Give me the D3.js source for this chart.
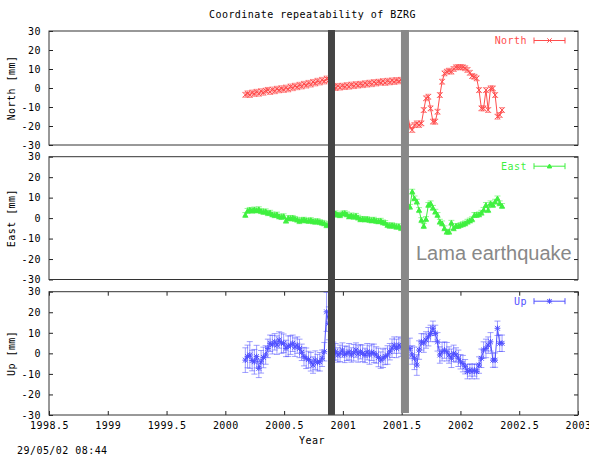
<!DOCTYPE html>
<html><head><meta charset="utf-8">
<script src="https://cdn.jsdelivr.net/npm/d3@7"></script>
<style>html,body{margin:0;padding:0;background:#fff;} svg{display:block;}</style>
</head><body>
<script>
// ---------- data ----------
const epochs = [
 2000.170,2000.189,2000.208,2000.228,2000.247,2000.266,2000.285,2000.304,2000.324,2000.343,
 2000.362,2000.381,2000.400,2000.420,2000.439,2000.458,2000.477,2000.496,2000.516,2000.535,
 2000.554,2000.573,2000.592,2000.612,2000.631,2000.650,2000.669,2000.688,2000.708,2000.727,
 2000.746,2000.765,2000.784,2000.804,2000.823,2000.842,2000.861,2000.880,2000.900,2000.919,
 2000.938,2000.957,2000.976,2000.996,2001.015,2001.034,2001.053,2001.072,2001.092,2001.111,
 2001.130,2001.149,2001.168,2001.188,2001.207,2001.226,2001.245,2001.264,2001.284,2001.303,
 2001.322,2001.341,2001.360,2001.380,2001.399,2001.418,2001.437,2001.456,2001.476,2001.495,
 2001.570,2001.590,2001.609,2001.629,2001.648,2001.668,2001.688,2001.707,2001.727,2001.746,
 2001.766,2001.786,2001.805,2001.825,2001.844,2001.864,2001.884,2001.903,2001.923,2001.942,
 2001.962,2001.982,2002.001,2002.021,2002.040,2002.060,2002.080,2002.099,2002.119,2002.138,
 2002.158,2002.178,2002.197,2002.217,2002.236,2002.256,2002.276,2002.295,2002.315,2002.334,
 2002.354
];
const north = [
 -3.6,-2.8,-3.7,-2.4,-3.1,-2.0,-3.0,-1.7,-2.5,-1.4,
 -1.0,-2.1,-0.8,-1.7,-0.4,-1.2,-0.1,-1.0,0.2,-0.7,
 0.8,-0.1,1.2,0.4,1.7,0.8,2.2,1.3,2.7,1.8,
 3.2,2.4,3.8,2.9,4.3,3.4,5.0,4.1,5.0,0.5,
 0.0,1.1,0.2,1.2,0.5,1.5,0.7,1.8,1.0,2.0,
 1.3,2.2,1.5,2.5,1.8,2.8,2.0,3.1,2.4,3.3,
 2.8,3.6,2.7,3.8,3.0,4.0,3.2,4.2,3.5,4.3,
 -20.3,-22.1,-19.5,-18.6,-19.5,-18.6,-11.6,-5.4,-4.6,-10.7,
 -17.7,-17.7,-12.5,-3.7,3.3,7.7,8.6,9.1,8.6,10.0,
 10.9,10.9,11.0,10.9,10.4,9.5,8.0,6.3,5.9,5.1,
 -1.1,-10.7,-10.7,-1.1,-11.6,-0.2,-0.2,-3.7,-15.1,-14.2,
 -11.6
];
const east = [
 1.5,3.5,4.0,3.6,4.2,3.7,4.3,3.4,3.0,3.3,
 2.4,2.6,1.8,1.4,1.7,0.8,0.5,0.9,-1.3,0.0,
 -0.2,0.1,-0.4,-0.8,-1.5,-1.0,-0.8,-1.2,-1.4,-1.0,
 -1.6,-1.8,-1.5,-2.0,-2.3,-2.6,-3.5,-3.0,0.0,2.0,
 2.3,1.6,1.4,2.2,2.4,1.8,0.8,1.3,0.6,1.1,
 0.2,-0.6,-0.4,-0.7,-0.5,-0.9,-1.2,-0.8,-1.4,-1.6,
 -1.3,-2.1,-2.4,-3.4,-3.8,-3.5,-3.8,-4.3,-4.0,-4.9,
 5.5,12.9,9.6,8.0,3.9,-1.0,-3.9,-0.5,6.4,7.2,
 5.0,3.1,1.5,-1.8,-2.6,-5.0,-6.7,-6.7,-2.3,-5.0,
 -3.9,-3.9,-3.4,-3.0,-2.6,-1.8,-1.2,-0.6,1.5,1.5,
 1.8,2.6,4.0,6.4,3.9,7.2,6.4,8.0,9.6,7.2,
 5.9
];
const up = [
 -3.3,-1.5,-0.8,-3.5,-4.1,-1.6,-7.3,-4.1,-2.0,-0.8,
 2.4,4.9,4.2,5.6,4.0,6.5,5.0,4.9,2.4,3.5,
 4.0,4.9,3.0,4.0,2.4,0.5,-1.6,-2.4,-3.0,-4.1,
 -5.7,-3.3,-4.5,-4.1,-2.4,0.8,20.2,14.6,5.0,1.0,
 0.8,-0.8,0.0,1.6,-0.5,0.0,0.8,-0.8,0.3,1.6,
 -0.3,0.8,0.0,-1.0,0.8,-0.8,0.5,0.0,-0.8,-2.0,
 -3.3,-2.4,-1.5,-0.8,0.8,2.5,4.0,2.4,4.0,3.0,
 2.4,-0.8,-2.4,-5.7,1.6,5.6,5.0,6.5,8.1,9.7,
 12.2,9.7,5.6,-0.8,0.8,1.6,0.8,-0.8,-2.4,0.0,
 -0.8,-2.4,-4.1,-5.0,-6.5,-8.9,-8.1,-8.9,-8.1,-8.9,
 -5.7,-2.4,1.6,2.4,4.0,5.6,-3.3,-3.3,12.2,4.9,
 4.9
];
const upErr = [
 6.0,5.5,6.5,5.0,6.0,5.5,4.5,5.5,5.0,4.5,
 4.5,4.0,4.5,4.0,4.5,4.0,5.0,4.5,4.0,5.0,
 4.5,4.0,4.5,4.0,4.5,4.0,4.5,5.0,4.0,4.5,
 4.0,4.5,4.0,4.5,4.0,4.5,9.5,8.0,6.0,4.5,
 4.0,3.5,4.0,3.5,4.0,3.5,4.0,3.5,4.0,3.5,
 4.0,3.5,4.0,3.5,4.0,4.5,4.0,4.5,4.0,4.5,
 4.0,4.5,4.0,4.5,4.0,4.5,4.0,4.5,4.0,4.5,
 5.0,4.5,5.5,5.0,4.5,4.0,4.5,4.0,4.5,4.0,
 3.5,4.0,4.5,4.0,4.5,4.0,4.5,4.0,4.5,4.0,
 3.5,4.0,3.5,4.0,3.5,3.5,3.0,3.5,3.0,3.5,
 4.0,4.5,4.0,4.5,4.0,4.5,3.5,3.5,3.5,4.0,
 4.0
];
const northErr = 1.3;
const eastErr = 1.2;
const seriesNames = ["North", "East", "Up"];
const yTitles = ["North [mm]", "East [mm]", "Up [mm]"];
const yTicks = [-30, -20, -10, 0, 10, 20, 30];
const xTicks = [1998.5, 1999, 1999.5, 2000, 2000.5, 2001, 2001.5, 2002, 2002.5, 2003];
const eventYears = [2000.903, 2001.528];
const eventLabel = "Lama earthquake";
const chartTitle = "Coordinate repeatability of BZRG";
const xTitle = "Year";
const stamp = "29/05/02 08:44";

// ---------- drawing ----------
const W = 589, H = 456, L = 49, R = 578;
const mono = "'DejaVu Sans Mono', monospace";
const svg = d3.select("body").append("svg").attr("width", W).attr("height", H)
  .attr("font-family", mono).attr("font-size", 10).style("letter-spacing", "0.45px");

const x = d3.scaleLinear().domain([1998.5, 2003]).range([L, R]);

const markers = {
  cross: s => `M${-s},${-s}L${s},${s}M${-s},${s}L${s},${-s}`,
  tri: s => `M0,${-s}L${s},${s * 0.8}L${-s},${s * 0.8}Z`,
  star: s => `M${-s},${-s}L${s},${s}M${-s},${s}L${s},${-s}M0,${-s * 1.2}L0,${s * 1.2}M${-s * 1.2},0L${s * 1.2},0`
};

const panels = [
  { vals: north, err: i => northErr, color: "#ff4d4d", marker: "cross", top: 31, bottom: 145 },
  { vals: east, err: i => eastErr, color: "#3ff03f", marker: "tri", top: 156.7, bottom: 279.5 },
  { vals: up, err: i => upErr[i], color: "#5050ff", marker: "star", top: 291.7, bottom: 415 }
];

// title
svg.append("text").attr("x", 312.5).attr("y", 18).attr("text-anchor", "middle")
  .attr("fill", "#000").text(chartTitle);

panels.forEach((p, k) => {
  const y = d3.scaleLinear().domain([-30, 30]).range([p.bottom, p.top]);
  const g = svg.append("g");
  const cid = "clip" + k;
  svg.append("clipPath").attr("id", cid).append("rect")
    .attr("x", L).attr("y", p.top).attr("width", R - L).attr("height", p.bottom - p.top);

  // axes
  const ax = g.append("g").attr("transform", `translate(${L},0)`)
    .call(d3.axisLeft(y).tickValues(yTicks).tickSize(-4).tickPadding(8).tickFormat(d => String(d)));
  ax.select(".domain").remove();
  ax.selectAll("text").attr("font-family", mono).attr("font-size", 10).attr("fill", "#000");
  ax.selectAll("line").attr("stroke", "#222");
  const ar = g.append("g").attr("transform", `translate(${R},0)`)
    .call(d3.axisRight(y).tickValues(yTicks).tickSize(-4).tickFormat(""));
  ar.select(".domain").remove();
  ar.selectAll("line").attr("stroke", "#222");

  if (k === 2) {
    const ab = g.append("g").attr("transform", `translate(0,${p.bottom})`)
      .call(d3.axisBottom(x).tickValues(xTicks).tickSize(-4).tickPadding(7).tickFormat(d => String(d)));
    ab.select(".domain").remove();
    ab.selectAll("text").attr("font-family", mono).attr("font-size", 10).attr("fill", "#000");
    ab.selectAll("line").attr("stroke", "#222");
    const at = g.append("g").attr("transform", `translate(0,${p.top})`)
      .call(d3.axisTop(x).tickValues(xTicks).tickSize(-4).tickFormat(""));
    at.select(".domain").remove();
    at.selectAll("line").attr("stroke", "#222");
  }

  // frame
  g.append("rect").attr("x", L).attr("y", p.top).attr("width", R - L).attr("height", p.bottom - p.top)
    .attr("fill", "none").attr("stroke", "#333").attr("stroke-width", 1);

  // y title
  const cy = (p.top + p.bottom) / 2;
  svg.append("text").attr("transform", `translate(15,${cy}) rotate(-90)`)
    .attr("text-anchor", "middle").attr("fill", "#000").text(yTitles[k]);

  // data
  const dg = svg.append("g").attr("clip-path", `url(#${cid})`);
  const pts = epochs.map((t, i) => ({ t, v: p.vals[i], e: p.err(i) }));
  // error bars
  const eb = dg.append("g").attr("stroke", p.color).attr("stroke-opacity", 0.55).attr("stroke-width", 1).attr("fill", "none");
  pts.forEach(d => {
    const px = x(d.t), y1 = y(d.v - d.e), y2 = y(d.v + d.e);
    eb.append("path").attr("d", `M${px},${y1}L${px},${y2}M${px - 3},${y1}L${px + 3},${y1}M${px - 3},${y2}L${px + 3},${y2}`);
  });
  // line
  dg.append("path").datum(pts)
    .attr("d", d3.line().x(d => x(d.t)).y(d => y(d.v)))
    .attr("fill", "none").attr("stroke", p.color).attr("stroke-width", 1);
  // markers
  dg.append("g").selectAll("path").data(pts).join("path")
    .attr("transform", d => `translate(${x(d.t)},${y(d.v)})`)
    .attr("d", markers[p.marker](2.4))
    .attr("stroke", p.color).attr("stroke-width", 1)
    .attr("fill", p.marker === "tri" ? p.color : "none");

  // legend
  const ly = p.top + 9.5;
  svg.append("text").attr("x", 527).attr("y", ly).attr("dy", "0.35em")
    .attr("text-anchor", "end").attr("fill", p.color).text(seriesNames[k]);
  const lg = svg.append("g").attr("stroke", p.color).attr("stroke-width", 1).attr("fill", "none");
  lg.append("path").attr("d", `M534,${ly}L565,${ly}M534,${ly - 3}L534,${ly + 3}M565,${ly - 3}L565,${ly + 3}`);
  lg.append("path").attr("transform", `translate(549.5,${ly})`).attr("d", markers[p.marker](2.2))
    .attr("fill", p.marker === "tri" ? p.color : "none");
});

// event bars
const barStyle = [{ w: 7, c: "#444444", y2: 415 }, { w: 8, c: "#888888", y2: 413 }];
eventYears.forEach((yr, i) => {
  svg.append("rect").attr("x", x(yr) - barStyle[i].w / 2).attr("y", 30)
    .attr("width", barStyle[i].w).attr("height", barStyle[i].y2 - 30).attr("fill", barStyle[i].c);
});
svg.append("text").attr("x", 416).attr("y", 260)
  .attr("font-family", "'Liberation Sans', Arial, sans-serif").attr("font-size", 20)
  .style("letter-spacing", "0px").attr("fill", "#888888").text(eventLabel);

// x title and stamp
svg.append("text").attr("x", 312).attr("y", 444).attr("text-anchor", "middle").attr("fill", "#000").text(xTitle);
svg.append("text").attr("x", 17).attr("y", 454).attr("fill", "#000").text(stamp);
</script>
</body></html>
